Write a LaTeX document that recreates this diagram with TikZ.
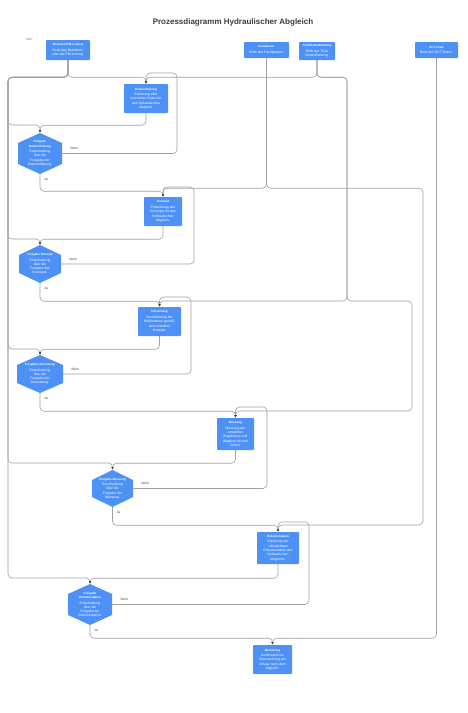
\documentclass[tikz,border=0pt]{standalone}
\usepackage{fontspec}
\setmainfont{Liberation Sans}
\usetikzlibrary{arrows.meta,calc}
\definecolor{bx}{RGB}{77,145,247}
\definecolor{ln}{RGB}{160,160,160}
\definecolor{ar}{RGB}{70,70,70}
\definecolor{tc}{RGB}{60,60,60}
\newcommand\descf{\fontsize{3.4}{4.3}\selectfont}
\newcommand\ttlf{\fontsize{3}{3.8}\selectfont\bfseries}
\begin{document}
\begin{tikzpicture}[x=1pt,y=-1pt,
  box/.style={fill=bx, text=white, rounded corners=0.8pt, inner sep=0pt, align=center, font=\descf},
  hexa/.style={inner sep=0pt, align=center, text=white, font=\descf,
    path picture={\fill[bx] (path picture bounding box.north)
      -- ($(path picture bounding box.north east)+(0pt,-10pt)$)
      -- ($(path picture bounding box.south east)+(0pt,10pt)$)
      -- (path picture bounding box.south)
      -- ($(path picture bounding box.south west)+(0pt,10pt)$)
      -- ($(path picture bounding box.north west)+(0pt,-10pt)$) -- cycle;}},
  conn/.style={draw=ln, line width=0.6pt, rounded corners=4pt, -{Latex[length=2.6pt,width=2.2pt,color=ar]}},
  lbl/.style={font=\fontsize{3.4}{4}\selectfont, text=tc, inner sep=0pt}]
\useasboundingbox[fill=white] (0,0) rectangle (467,713);

\node[font=\bfseries\fontsize{8}{10}\selectfont, text=tc] (title) at (233,22) {Prozessdiagramm Hydraulischer Abgleich};
\node[font=\fontsize{3}{4}\selectfont, text=gray] (start) at (29,39) {Start};

% roles
\node[box, minimum width=44, minimum height=20] (bet) at (68,50) {{\ttlf Betreiber/FM-Leitung}\\[1.2pt]Rolle des Betreibers\\oder der FM-Leitung.};
\node[box, minimum width=45, minimum height=16] (fp) at (266.5,50) {{\ttlf Fachplaner}\\[1.2pt]Rolle des Fachplaners.};
\node[box, minimum width=36, minimum height=18] (tga) at (317,51) {{\ttlf TGA/Instandhaltung}\\[1.2pt]Rolle der TGA/\\Instandhaltung.};
\node[box, minimum width=43, minimum height=16] (glt) at (436.5,50) {{\ttlf GLT-Team}\\[1.2pt]Rolle des GLT-Teams.};

% tasks
\node[box, minimum width=44, minimum height=29] (de) at (146,98.5) {{\ttlf Datenerhebung}\\[1.2pt]Erfassung aller\\relevanten Daten für\\den hydraulischen\\Abgleich.};
\node[box, minimum width=38, minimum height=29] (ko) at (163,211.5) {{\ttlf Konzept}\\[1.2pt]Entwicklung des\\Konzepts für den\\hydraulischen\\Abgleich.};
\node[box, minimum width=43, minimum height=29] (um) at (159.5,321.5) {{\ttlf Umsetzung}\\[1.2pt]Durchführung der\\Maßnahmen gemäß\\dem erstellten\\Konzept.};
\node[box, minimum width=37, minimum height=32] (me) at (235.5,434) {{\ttlf Messung}\\[1.2pt]Messung der\\erreichten\\Ergebnisse und\\Abgleich mit den\\Zielen.};
\node[box, minimum width=42, minimum height=32] (do) at (278,548) {{\ttlf Dokumentation}\\[1.2pt]Erstellung der\\vollständigen\\Dokumentation des\\hydraulischen\\Abgleichs.};
\node[box, minimum width=39, minimum height=29] (mo) at (272.5,659.5) {{\ttlf Monitoring}\\[1.2pt]Kontinuierliche\\Überwachung der\\Anlage nach dem\\Abgleich.};

% decisions
\node[hexa, minimum width=44, minimum height=41] (fde) at (40,153.5) {{\ttlf Freigabe}\\{\ttlf Datenerhebung}\\[1.2pt]Entscheidung\\über die\\Freigabe der\\Datenerhebung.};
\node[hexa, minimum width=42, minimum height=38] (fk) at (40,264) {{\ttlf Freigabe Konzept}\\[1.2pt]Entscheidung\\über die\\Freigabe des\\Konzepts.};
\node[hexa, minimum width=46, minimum height=38] (fu) at (40,374) {{\ttlf Freigabe Umsetzung}\\[1.2pt]Entscheidung\\über die\\Freigabe der\\Umsetzung.};
\node[hexa, minimum width=41, minimum height=37] (fm) at (112.5,488.5) {{\ttlf Freigabe Messung}\\[1.2pt]Entscheidung\\über die\\Freigabe der\\Messung.};
\node[hexa, minimum width=44, minimum height=41] (fd) at (90,604.5) {{\ttlf Freigabe}\\{\ttlf Dokumentation}\\[1.2pt]Entscheidung\\über die\\Freigabe der\\Dokumentation.};

% role connectors
\draw[conn] (bet.south) -- ++(0,17) -| (de.north);
\draw[conn] (bet.south) -- ++(0,17) -| (8,125) -| (fde.north);
\draw[conn] (bet.south) -- ++(0,17) -| (8,239) -| (fk.north);
\draw[conn] (bet.south) -- ++(0,17) -| (8,349) -| (fu.north);
\draw[conn] (bet.south) -- ++(0,17) -| (8,463) -| (fm.north);
\draw[conn] (bet.south) -- ++(0,17) -| (8,578) -| (fd.north);
\draw[conn] (tga.south) -- ++(0,17) -| (de.north);
\draw[conn] (tga.south) -- ++(0,17) -| (347,301) -| (um.north);
\draw[conn] (tga.south) -- ++(0,17) -| (347,301) -| (412,411) -| (me.north);
\draw[conn] (fp.south) -- ++(0,130) -| (ko.north);
\draw[conn] (fp.south) -- ++(0,130) -| (423,525) -| (do.north);
\draw[conn] (glt.south) -- ++(0,580) -| (mo.north);

% task -> decision
\draw[conn] (de.south) -- ++(0,12) -| (fde.north);
\draw[conn] (ko.south) -- ++(0,13) -| (fk.north);
\draw[conn] (um.south) -- ++(0,13) -| (fu.north);
\draw[conn] (me.south) -- ++(0,13) -| (fm.north);
\draw[conn] (do.south) -- ++(0,14) -| (fd.north);

% Nein loops
\draw[conn] (fde.east) -| (177,73) -| (de.north);
\draw[conn] (fk.east) -| (194,187) -| (ko.north);
\draw[conn] (fu.east) -| (191,297) -| (um.north);
\draw[conn] (fm.east) -| (267,407) -| (me.north);
\draw[conn] (fd.east) -| (309,522) -| (do.north);

% Ja
\draw[conn] (fde.south) -- ++(0,17) -| (ko.north);
\draw[conn] (fk.south) -- ++(0,18) -| (um.north);
\draw[conn] (fu.south) -- ++(0,18) -| (me.north);
\draw[conn] (fm.south) -- ++(0,18) -| (do.north);
\draw[conn] (fd.south) -- ++(0,13) -| (mo.north);

% labels
\node[lbl] (n1) at ($(fde.east)+(12,-5)$) {Nein};
\node[lbl] (n2) at ($(fk.east)+(12,-5)$) {Nein};
\node[lbl] (n3) at ($(fu.east)+(12,-5)$) {Nein};
\node[lbl] (n4) at ($(fm.east)+(12,-5)$) {Nein};
\node[lbl] (n5) at ($(fd.east)+(12,-5)$) {Nein};
\node[lbl] (j1) at ($(fde.south)+(6,5.5)$) {Ja};
\node[lbl] (j2) at ($(fk.south)+(6,5.5)$) {Ja};
\node[lbl] (j3) at ($(fu.south)+(6,5.5)$) {Ja};
\node[lbl] (j4) at ($(fm.south)+(6,5.5)$) {Ja};
\node[lbl] (j5) at ($(fd.south)+(6,5.5)$) {Ja};
\end{tikzpicture}
\end{document}
